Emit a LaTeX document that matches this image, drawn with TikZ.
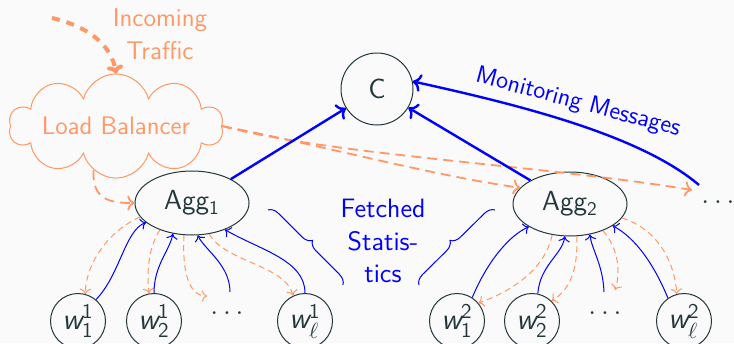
\documentclass[tikz,border=0pt]{standalone}
\usepackage{amsmath}
\usetikzlibrary{shapes.geometric,shapes.symbols,decorations.pathreplacing,arrows.meta}
\definecolor{ink}{RGB}{35,55,59}
\definecolor{lbor}{RGB}{255,152,102}
\definecolor{bgc}{RGB}{250,250,250}
\newcommand\wlabel[2]{$\text{\itshape w}^{\text{#1}}_{#2}$}
\begin{document}
\begin{tikzpicture}[x=0.5pt,y=-0.5pt,
  bigtext/.style={font=\sffamily\fontsize{13.8}{16}\selectfont},
  worker/.style={circle,draw=ink,line width=0.5pt,minimum size=27.5pt,inner sep=0pt,text=ink,font=\sffamily\fontsize{15}{17}\selectfont},
  hub/.style={circle,draw=ink,line width=0.5pt,minimum size=36pt,inner sep=0pt,text=ink,bigtext},
  aggr/.style={ellipse,draw=ink,line width=0.5pt,minimum width=57pt,minimum height=32pt,inner sep=0pt,text=ink,bigtext},
  dotsnode/.style={inner sep=0pt,text=ink,bigtext},
  fetch/.style={->,blue,line width=0.5pt},
  push/.style={->,lbor,line width=0.5pt,dash pattern=on 3pt off 2pt},
  route/.style={->,lbor,line width=0.9pt,dash pattern=on 5pt off 3pt},
  report/.style={->,blue,line width=1.2pt},
  incoming/.style={-{To[length=4pt,width=8pt]},lbor,line width=2pt,dash pattern=on 4pt off 3.5pt},
  bracestyle/.style={blue,line width=0.5pt,decorate,decoration={brace,amplitude=5pt}}
]
\path[fill=bgc] (0,0) rectangle (734,343);
\useasboundingbox (0,0) rectangle (734,343);

% controller, aggregators, load balancer
\node[hub] (C) at (377,89) {C};
\node[aggr] (agg1) at (192,203) {Agg\textsubscript{1}};
\node[aggr] (agg2) at (570,204) {Agg\textsubscript{2}};
\node[cloud,draw=lbor,line width=0.5pt,cloud puffs=10,aspect=2.4,minimum width=107pt,minimum height=45pt,inner xsep=-8pt,inner ysep=-6pt,text=lbor,font=\sffamily\fontsize{12.7}{14}\selectfont] (lb) at (116,126) {Load Balancer};
\node[dotsnode] (dotsR) at (718,202) {$\ldots$};

% workers
\node[worker] (w11) at (78,321) {\wlabel{1}{\text{1}}};
\node[worker] (w21) at (154,321) {\wlabel{1}{\text{2}}};
\node[dotsnode] (dots1) at (227,313) {$\ldots$};
\node[worker] (wl1) at (305,321) {\wlabel{1}{\ell}};
\node[worker] (w12) at (457,321) {\wlabel{2}{\text{1}}};
\node[worker] (w22) at (532,321) {\wlabel{2}{\text{2}}};
\node[dotsnode] (dots2) at (605,313) {$\ldots$};
\node[worker] (wl2) at (684,321) {\wlabel{2}{\ell}};

% labels
\node[text=lbor,align=center,font=\sffamily\fontsize{12.8}{16.5}\selectfont] (inlbl) at (160,34) {Incoming\\Traffic};
\node[text=blue,align=center,font=\sffamily\fontsize{13.3}{16.25}\selectfont] (fetchlbl) at (383,241) {Fetched\\Statis-\\tics};
\node[text=blue,rotate=-15,font=\sffamily\fontsize{12.3}{14}\selectfont] (monlbl) at (578,103) {Monitoring Messages};

% free ends
\coordinate (src) at (52,18);
\coordinate (d1in) at (207,296);
\coordinate (d1out) at (230,292);
\coordinate (d2in) at (615,290);
\coordinate (d2out) at (604,292);
\coordinate (mstart) at (699,185);
\coordinate (rend) at (692,190);

% traffic routing
\draw[incoming] (src) .. controls (95,28) and (112,50) .. (lb.north);
\draw[route] (lb.243) .. controls (92,200) and (110,203) .. (agg1.west);
\draw[route] (lb.east) .. controls (320,145) and (430,175) .. (agg2.162);
\draw[route] (lb.east) .. controls (330,155) and (540,165) .. (rend);

% monitoring messages
\draw[report] (agg1) -- (C);
\draw[report] (agg2) -- (C);
\draw[report] (mstart) .. controls (640,135) and (520,105) .. (C.12);

% cluster 1
\draw[push] (agg1.195) .. controls (110,230) and (86,262) .. (w11.75);
\draw[fetch] (w11.50) .. controls (120,275) and (125,230) .. (agg1.203);
\draw[push] (agg1.220) .. controls (150,245) and (146,268) .. (w21.100);
\draw[fetch] (w21.north) .. controls (154,265) and (170,250) .. (agg1.238);
\draw[push] (agg1.256) .. controls (182,275) and (190,296) .. (d1in);
\draw[fetch] (d1out) .. controls (230,265) and (205,250) .. (agg1.280);
\draw[push] (agg1.299) .. controls (225,262) and (285,265) .. (wl1.115);
\draw[fetch] (wl1.north) .. controls (305,260) and (260,250) .. (agg1.321);

% cluster 2
\draw[fetch] (w12.57) .. controls (488,260) and (510,235) .. (agg2.209);
\draw[push] (agg2.240) .. controls (545,270) and (510,292) .. (w12.40);
\draw[fetch] (w22.78) .. controls (540,265) and (562,255) .. (agg2.261);
\draw[push] (agg2.282) .. controls (578,270) and (570,290) .. (w22.46);
\draw[fetch] (d2out) .. controls (603,265) and (592,250) .. (agg2.303);
\draw[push] (agg2.321) .. controls (620,250) and (620,275) .. (d2in);
\draw[fetch] (wl2.125) .. controls (650,255) and (630,235) .. (agg2.333);
\draw[push] (agg2.345) .. controls (660,230) and (675,265) .. (wl2.105);

% braces
\coordinate (b1a) at (268,210);
\coordinate (b1b) at (343,285);
\coordinate (b2a) at (419,285);
\coordinate (b2b) at (495,210);
\draw[bracestyle] (b1a) -- (b1b);
\draw[bracestyle] (b2a) -- (b2b);
\end{tikzpicture}
\end{document}
